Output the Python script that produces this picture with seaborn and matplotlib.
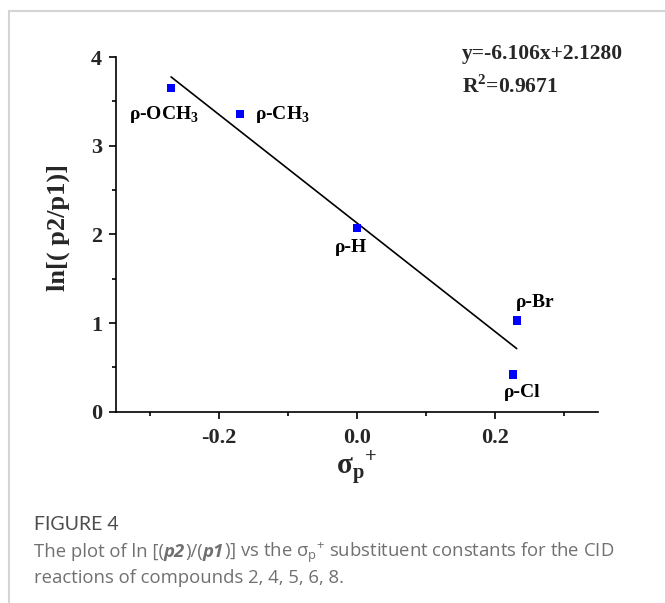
import matplotlib
matplotlib.use('Agg')
import matplotlib.pyplot as plt
import matplotlib.transforms as mtransforms
from matplotlib.lines import Line2D
import numpy as np
import pandas as pd
import seaborn as sns

# substituent data
substituents = ['ρ-OCH$_\\mathregular{3}$', 'ρ-CH$_\\mathregular{3}$', 'ρ-H', 'ρ-Cl', 'ρ-Br']
sigma_p = [-0.27, -0.17, 0.0, 0.227, 0.232]
ln_ratio = [3.65, 3.36, 2.07, 0.42, 1.03]

# linear fit reported in the figure
fit_slope = -6.106
fit_intercept = 2.1280
r_squared = 0.9671

x_ticks = [-0.2, 0.0, 0.2]
x_tick_labels = ['-0.2', '0.0', '0.2']
x_minor = [-0.3, -0.1, 0.1, 0.3]
y_ticks = [0, 1, 2, 3, 4]
y_minor = [0.5, 1.5, 2.5, 3.5]

# label placement (offset points, horizontal alignment) per substituent
label_layout = {
    'ρ-OCH$_\\mathregular{3}$': ((-5, -22), 'center'),
    'ρ-CH$_\\mathregular{3}$': ((11, -3.6), 'left'),
    'ρ-H': ((-4, -17), 'center'),
    'ρ-Cl': ((-6.5, -16), 'left'),
    'ρ-Br': ((-0.5, 9.6), 'left'),
}

caption_title = 'FIGURE 4'
caption_line1 = [
    ('The plot of ln [(', 'normal', 'normal'),
    ('p2', 'bold', 'italic'),
    (')/(', 'normal', 'normal'),
    ('p1', 'bold', 'italic'),
    (')] vs the σ$_\\mathregular{p}$$^\\mathregular{+}$ substituent constants for the CID', 'normal', 'normal'),
]
caption_line2 = 'reactions of compounds 2, 4, 5, 6, 8.'


def build_data() -> pd.DataFrame:
    return pd.DataFrame({'substituent': substituents, 'sigma_p': sigma_p, 'ln_ratio': ln_ratio})


def draw_rich_line(fig, x, y, pieces, size, color, family):
    renderer = fig.canvas.get_renderer()
    trans = fig.transFigure
    for text, weight, style in pieces:
        t = fig.text(x, y, text, transform=trans, fontsize=size, color=color,
                     fontweight=weight, fontstyle=style, family=family, va='baseline')
        ext = t.get_window_extent(renderer)
        trans = mtransforms.offset_copy(t.get_transform(), x=ext.width, units='dots')


def create_hammett_plot(data: pd.DataFrame) -> None:
    sns.set_theme(style='ticks')
    plt.rcParams['font.family'] = ['Liberation Serif', 'DejaVu Serif']
    plt.rcParams['font.weight'] = 'bold'

    fig = plt.figure(figsize=(6.65, 6.03), dpi=100)
    ax = fig.add_axes([0.1744, 0.3173, 0.7248, 0.588])

    fit_x = np.array([data['sigma_p'].min(), data['sigma_p'].max()])
    fit_df = pd.DataFrame({'x': fit_x, 'y': fit_slope * fit_x + fit_intercept})
    sns.lineplot(data=fit_df, x='x', y='y', ax=ax, color='black', linewidth=1.2)

    sns.scatterplot(data=data, x='sigma_p', y='ln_ratio', ax=ax, marker='s',
                    s=36, color='#0000ff', edgecolor='none', zorder=3)

    for _, row in data.iterrows():
        offset, ha = label_layout[row['substituent']]
        ax.annotate(row['substituent'], (row['sigma_p'], row['ln_ratio']),
                    xytext=offset, textcoords='offset points', ha=ha, va='baseline',
                    fontsize=14, fontweight='bold', color='black')

    ax.text(0.717, 0.996, f'y={fit_slope}x+{fit_intercept:.4f}', transform=ax.transAxes,
            fontsize=15.5, fontweight='bold', va='baseline')
    ax.text(0.717, 0.898, f'R$^\\mathregular{{2}}$={r_squared}', transform=ax.transAxes,
            fontsize=15.5, fontweight='bold', va='baseline')

    ax.set_xlim(-0.35, 0.35)
    ax.set_ylim(0, 4)
    ax.set_xticks(x_ticks)
    ax.set_xticklabels(x_tick_labels)
    ax.set_xticks(x_minor, minor=True)
    ax.set_yticks(y_ticks)
    ax.set_yticks(y_minor, minor=True)
    ax.tick_params(axis='both', which='major', length=5, width=1.2, labelsize=16, color='black')
    ax.tick_params(axis='both', which='minor', length=3, width=1.2, color='black')
    ax.tick_params(axis='x', which='major', pad=7)
    ax.tick_params(axis='y', which='major', pad=5)
    for lab in ax.get_xticklabels() + ax.get_yticklabels():
        lab.set_fontweight('bold')

    for side in ['top', 'right']:
        ax.spines[side].set_visible(False)
    for side in ['left', 'bottom']:
        ax.spines[side].set_linewidth(1.2)
        ax.spines[side].set_color('black')

    ax.set_xlabel('σ$_\\mathregular{p}$$^\\mathregular{+}$', fontsize=21, fontweight='bold', labelpad=0)
    ax.set_ylabel('ln[( p2/p1)]', fontsize=19, fontweight='bold')
    ax.yaxis.set_label_coords(-0.095, 0.52)

    # frame lines of the article figure box
    fig.add_artist(Line2D([9 / 665, 9 / 665], [0, 1 - 11 / 603], transform=fig.transFigure,
                          color='#d4d4d4', linewidth=1.5))
    fig.add_artist(Line2D([9 / 665, 1], [1 - 11 / 603, 1 - 11 / 603], transform=fig.transFigure,
                          color='#d4d4d4', linewidth=1.5))

    cap_family = ['Open Sans', 'DejaVu Sans']
    fig.text(34 / 665, 1 - 530 / 603, caption_title, fontsize=14, color='#4d4d4d',
             family=['Lato', 'DejaVu Sans'], fontweight='normal', va='baseline')
    draw_rich_line(fig, 34 / 665, 1 - 557 / 603, caption_line1, 13.3, '#707070', cap_family)
    fig.text(34 / 665, 1 - 583 / 603, caption_line2, fontsize=13.3, color='#707070',
             family=cap_family, fontweight='normal', va='baseline')

    fig.savefig('out.png', dpi=100)


def main():
    data = build_data()
    create_hammett_plot(data)


if __name__ == "__main__":
    main()
